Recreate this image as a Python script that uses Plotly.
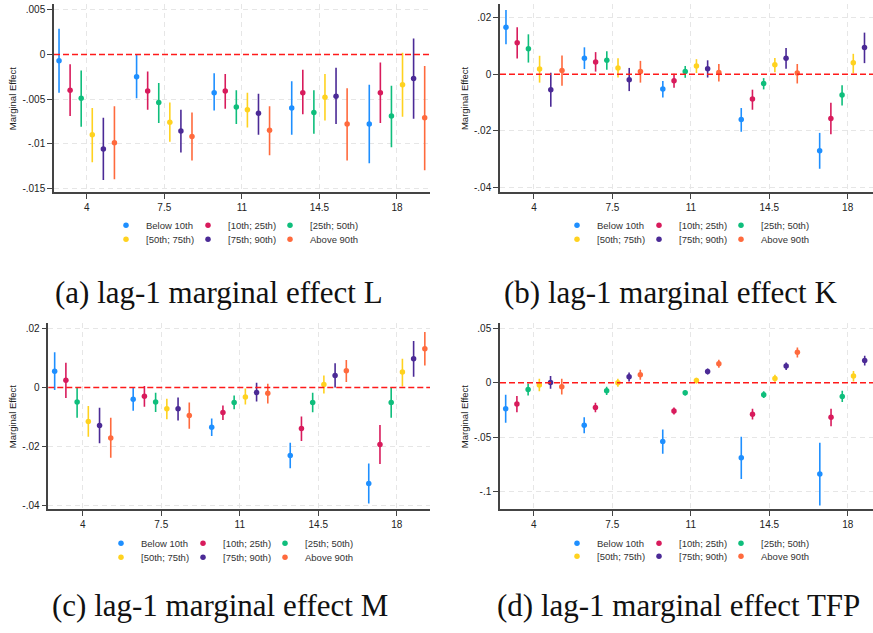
import plotly.graph_objects as go

W, H = 873, 633

groups = [4, 7.5, 11, 14.5, 18]
categories = ["Below 10th", "[10th; 25th)", "[25th; 50th)",
              "[50th; 75th)", "[75th; 90th)", "Above 90th"]
colors = ["#1E8FFF", "#D81B5C", "#0FBE7C", "#FFD21F", "#4B2A96", "#FF6A3D"]

# rows = categories, columns = groups
L_est = [[-0.0007, -0.0025, -0.0043, -0.0060, -0.0078],
         [-0.0040, -0.0041, -0.0041, -0.0043, -0.0043],
         [-0.0049, -0.0054, -0.0059, -0.0065, -0.0069],
         [-0.0090, -0.0076, -0.0062, -0.0048, -0.0034],
         [-0.0106, -0.0086, -0.0066, -0.0047, -0.0027],
         [-0.0099, -0.0092, -0.0085, -0.0078, -0.0071]]
L_lo = [[-0.0043, -0.0049, -0.0063, -0.0090, -0.0122],
        [-0.0069, -0.0062, -0.0061, -0.0067, -0.0077],
        [-0.0081, -0.0077, -0.0078, -0.0089, -0.0104],
        [-0.0121, -0.0098, -0.0082, -0.0074, -0.0070],
        [-0.0141, -0.0110, -0.0090, -0.0078, -0.0072],
        [-0.0140, -0.0119, -0.0113, -0.0119, -0.0130]]
L_hi = [[0.0029, 0.0000, -0.0021, -0.0030, -0.0034],
        [-0.0011, -0.0019, -0.0022, -0.0017, -0.0009],
        [-0.0018, -0.0032, -0.0040, -0.0040, -0.0035],
        [-0.0060, -0.0054, -0.0043, -0.0022, 0.0002],
        [-0.0071, -0.0062, -0.0044, -0.0015, 0.0018],
        [-0.0058, -0.0065, -0.0058, -0.0038, -0.0013]]

K_est = [[0.0166, 0.0056, -0.0053, -0.0161, -0.0271],
         [0.0111, 0.0043, -0.0023, -0.0088, -0.0157],
         [0.0090, 0.0049, 0.0009, -0.0033, -0.0074],
         [0.0018, 0.0022, 0.0029, 0.0033, 0.0040],
         [-0.0055, -0.0020, 0.0019, 0.0056, 0.0094],
         [0.0013, 0.0009, 0.0006, 0.0004, None]]
K_lo = [[0.0106, 0.0018, -0.0083, -0.0204, -0.0335],
        [0.0055, 0.0009, -0.0048, -0.0126, -0.0213],
        [0.0041, 0.0016, -0.0013, -0.0054, -0.0111],
        [-0.0030, -0.0012, 0.0004, 0.0007, 0.0003],
        [-0.0115, -0.0060, -0.0012, 0.0019, 0.0039],
        [-0.0041, -0.0030, -0.0026, -0.0033, None]]
K_hi = [[0.0227, 0.0095, -0.0024, -0.0120, -0.0208],
        [0.0166, 0.0078, 0.0001, -0.0055, -0.0101],
        [0.0141, 0.0081, 0.0029, -0.0014, -0.0039],
        [0.0065, 0.0056, 0.0053, 0.0057, 0.0072],
        [0.0005, 0.0022, 0.0049, 0.0093, 0.0147],
        [0.0066, 0.0047, 0.0036, 0.0036, None]]

M_est = [[0.0055, -0.0040, -0.0135, -0.0230, -0.0325],
         [0.0024, -0.0030, -0.0085, -0.0139, -0.0193],
         [-0.0049, -0.0049, -0.0051, -0.0051, -0.0051],
         [-0.0115, -0.0072, -0.0032, 0.0010, 0.0052],
         [-0.0129, -0.0072, -0.0017, 0.0040, 0.0097],
         [-0.0171, -0.0095, -0.0020, 0.0056, 0.0131]]
M_lo = [[-0.0009, -0.0079, -0.0164, -0.0273, -0.0393],
        [-0.0036, -0.0065, -0.0110, -0.0181, -0.0259],
        [-0.0103, -0.0083, -0.0074, -0.0084, -0.0103],
        [-0.0167, -0.0108, -0.0058, -0.0021, 0.0003],
        [-0.0189, -0.0112, -0.0048, 0.0000, 0.0036],
        [-0.0238, -0.0140, -0.0054, 0.0018, 0.0074]]
M_hi = [[0.0119, 0.0000, -0.0105, -0.0187, -0.0257],
        [0.0083, 0.0005, -0.0061, -0.0098, -0.0127],
        [0.0000, -0.0018, -0.0027, -0.0018, 0.0000],
        [-0.0063, -0.0038, -0.0004, 0.0040, 0.0097],
        [-0.0069, -0.0034, 0.0016, 0.0082, 0.0157],
        [-0.0103, -0.0051, 0.0012, 0.0093, 0.0187]]

TFP_est = [[-0.0238, -0.0390, -0.0539, -0.0688, -0.0838],
           [-0.0195, -0.0226, -0.0259, -0.0290, -0.0317],
           [-0.0061, -0.0073, -0.0091, -0.0110, -0.0125],
           [-0.0021, 0.0000, 0.0021, 0.0039, 0.0061],
           [0.0003, 0.0055, 0.0103, 0.0153, 0.0204],
           [-0.0037, 0.0073, 0.0174, 0.0281, None]]
TFP_lo = [[-0.0368, -0.0463, -0.0652, -0.0884, -0.1127],
          [-0.0271, -0.0271, -0.0292, -0.0338, -0.0399],
          [-0.0116, -0.0112, -0.0116, -0.0140, -0.0177],
          [-0.0079, -0.0037, -0.0006, 0.0009, 0.0012],
          [-0.0055, 0.0012, 0.0076, 0.0116, 0.0158],
          [-0.0107, 0.0027, 0.0137, 0.0231, None]]
TFP_hi = [[-0.0110, -0.0317, -0.0430, -0.0496, -0.0551],
          [-0.0122, -0.0183, -0.0226, -0.0238, -0.0238],
          [-0.0006, -0.0037, -0.0070, -0.0079, -0.0073],
          [0.0037, 0.0037, 0.0046, 0.0073, 0.0107],
          [0.0061, 0.0094, 0.0131, 0.0186, 0.0247],
          [0.0037, 0.0119, 0.0210, 0.0323, None]]

yt_small = [0.005, 0, -0.005, -0.01, -0.015]
yt_small_text = [".005", "0", "-.005", "-.01", "-.015"]
yt_mid = [0.02, 0, -0.02, -0.04]
yt_mid_text = [".02", "0", "-.02", "-.04"]
yt_big = [0.05, 0, -0.05, -0.1]
yt_big_text = [".05", "0", "-.05", "-.1"]
xtick_text = ["4", "7.5", "11", "14.5", "18"]

captions = ["(a) lag-1 marginal effect L", "(b) lag-1 marginal effect K",
            "(c) lag-1 marginal effect M", "(d) lag-1 marginal effect TFP"]

panels = [
    dict(est=L_est, lo=L_lo, hi=L_hi, yt=yt_small, ytt=yt_small_text,
         box=(54, 430, 4, 193), xr=[2.523, 19.49], yr=[-0.01548, 0.00567],
         leg=(126, 226, 240), cap=(219, 293), ytitle_x=12),
    dict(est=K_est, lo=K_lo, hi=K_hi, yt=yt_mid, ytt=yt_mid_text,
         box=(500, 873, 4, 192.7), xr=[2.483, 19.13], yr=[-0.04176, 0.02484],
         leg=(577, 226, 240), cap=(670, 293), ytitle_x=464),
    dict(est=M_est, lo=M_lo, hi=M_hi, yt=yt_mid, ytt=yt_mid_text,
         box=(48.3, 430, 324, 511), xr=[2.466, 19.48], yr=[-0.04125, 0.02179],
         leg=(121, 545, 559), cap=(220, 607), ytitle_x=12),
    dict(est=TFP_est, lo=TFP_lo, hi=TFP_hi, yt=yt_big, ytt=yt_big_text,
         box=(500, 873, 324, 511), xr=[2.497, 19.12], yr=[-0.1162, 0.05485],
         leg=(577, 545, 558), cap=(678, 607), ytitle_x=464),
]

TICK_FONT = dict(family="Liberation Sans, Arial, sans-serif", size=10, color="#222")
LEG_FONT = dict(family="Liberation Sans, Arial, sans-serif", size=9.5, color="#333")
GRID = "#e6e6e6"
AXIS = "#444"
LEG_DOT_OFFSET = 20   # legend box left edge -> symbol centre
LEG_COL_STEP = 82     # horizontal step between legend columns

fig = go.Figure()
layout = dict(width=W, height=H, margin=dict(l=0, r=0, t=0, b=0),
              paper_bgcolor="white", plot_bgcolor="white", showlegend=True)
annotations = []
shapes = []
leg_count = 0

for p_i, p in enumerate(panels):
    sfx = "" if p_i == 0 else str(p_i + 1)
    xa, ya = "x" + sfx, "y" + sfx
    x0, x1, y0, y1 = p["box"]
    layout["xaxis" + sfx] = dict(
        domain=[x0 / W, min(x1 / W, 1)], anchor=ya, range=p["xr"],
        tickmode="array", tickvals=groups, ticktext=xtick_text,
        showgrid=True, gridcolor=GRID, griddash="5px,4px", gridwidth=1,
        zeroline=False, showline=True, linecolor=AXIS, linewidth=1.5,
        ticks="outside", ticklen=5, tickwidth=1.2, tickcolor=AXIS,
        tickfont=TICK_FONT, fixedrange=True)
    layout["yaxis" + sfx] = dict(
        domain=[1 - y1 / H, 1 - y0 / H], anchor=xa, range=p["yr"],
        tickmode="array", tickvals=p["yt"], ticktext=p["ytt"],
        showgrid=True, gridcolor=GRID, griddash="5px,4px", gridwidth=1,
        zeroline=False, showline=True, linecolor=AXIS, linewidth=1.5,
        ticks="outside", ticklen=5, tickwidth=1.2, tickcolor=AXIS,
        tickfont=TICK_FONT, fixedrange=True)

    lx, ly1, ly2 = p["leg"]
    for c_i, cat in enumerate(categories):
        # one legend box per entry, laid out as a 3 x 2 grid under the panel
        leg_count += 1
        leg_name = "legend" if leg_count == 1 else "legend" + str(leg_count)
        col, row = c_i % 3, c_i // 3
        dot_x = lx + col * LEG_COL_STEP
        dot_y = ly1 if row == 0 else ly2
        layout[leg_name] = dict(
            x=(dot_x - LEG_DOT_OFFSET) / W, y=1 - dot_y / H,
            xanchor="left", yanchor="middle", orientation="h",
            font=LEG_FONT, bgcolor="rgba(0,0,0,0)", itemwidth=30)

        xs, ys, up, dn = [], [], [], []
        for g_i, g in enumerate(groups):
            e = p["est"][c_i][g_i]
            if e is None:
                continue
            xs.append(g + (c_i - 2.5) * 0.5)
            ys.append(e)
            up.append(p["hi"][c_i][g_i] - e)
            dn.append(e - p["lo"][c_i][g_i])
        fig.add_trace(go.Scatter(
            x=xs, y=ys, mode="markers", name=cat, xaxis=xa, yaxis=ya,
            legend=leg_name,
            marker=dict(color=colors[c_i], size=5.5, symbol="circle"),
            error_y=dict(type="data", array=up, arrayminus=dn, symmetric=False,
                         color=colors[c_i], thickness=1.6, width=0),
            cliponaxis=True))

    # reference line at zero
    shapes.append(dict(type="line", xref=xa + " domain", yref=ya,
                       x0=0, x1=1, y0=0, y1=0,
                       line=dict(color="#ff1a1a", width=1.5, dash="6px,3px"),
                       layer="above"))

    annotations.append(dict(
        text="Marginal Effect", xref="paper", yref="paper",
        x=p["ytitle_x"] / W, y=1 - (y0 + y1) / 2 / H, textangle=-90,
        showarrow=False, xanchor="center", yanchor="middle",
        font=dict(family="Liberation Sans, Arial, sans-serif", size=9.5, color="#222")))

    cx, cy = p["cap"]
    annotations.append(dict(
        text=captions[p_i], xref="paper", yref="paper",
        x=cx / W, y=1 - cy / H, showarrow=False,
        xanchor="center", yanchor="middle",
        font=dict(family="Liberation Serif, Times New Roman, serif", size=31, color="#111")))

layout["annotations"] = annotations
layout["shapes"] = shapes
fig.update_layout(**layout)
fig.write_html("out.html", config={"displayModeBar": False})
